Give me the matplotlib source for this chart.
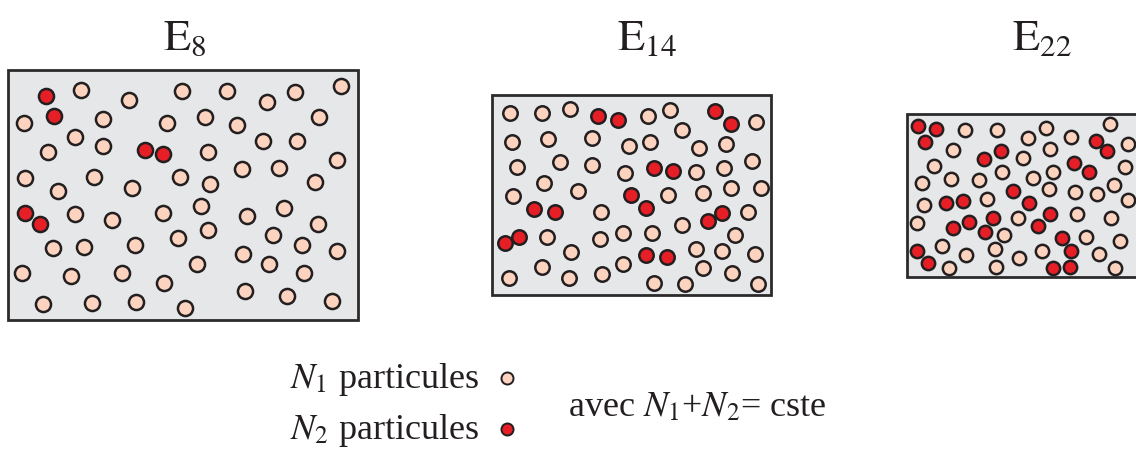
import matplotlib
matplotlib.use('Agg')
from matplotlib import pyplot as plt
from matplotlib.patches import Rectangle

plt.rcParams['mathtext.fontset'] = 'stix'

# particle centres, picture pixels (x, y from top)
box1_white = [(81, 90), (129, 100), (182, 91), (227, 91), (267, 102), (295, 92), (341, 86),
              (24, 123), (103, 119), (167, 123), (205, 117), (237, 125), (319, 117),
              (75, 137), (48, 152), (103, 146), (208, 152), (263, 141), (297, 141), (337, 160),
              (25, 178), (58, 191), (94, 177), (132, 188), (180, 177), (210, 184), (242, 169),
              (279, 168), (315, 182), (75, 214), (112, 220), (163, 213), (201, 206), (247, 216),
              (284, 208), (318, 224), (53, 248), (84, 247), (135, 245), (178, 238), (208, 230),
              (273, 235), (302, 245), (337, 251), (243, 254), (22, 273), (71, 276), (122, 273),
              (164, 283), (197, 264), (269, 264), (304, 273), (43, 304), (92, 303), (136, 302),
              (185, 308), (245, 291), (287, 296), (332, 301)]
box1_red = [(46, 96), (54, 116), (145, 150), (163, 154), (25, 213), (40, 224)]

box2_white = [(510, 113), (542, 113), (570, 109), (512, 142), (548, 139), (592, 138), (629, 146),
              (517, 167), (560, 162), (592, 165), (625, 173), (544, 183), (513, 196), (578, 191),
              (648, 116), (670, 110), (756, 122), (682, 130), (650, 142), (699, 148), (726, 144),
              (752, 161), (696, 172), (724, 168), (668, 195), (703, 193), (731, 188), (761, 188),
              (601, 212), (547, 237), (600, 239), (623, 233), (571, 252), (542, 267), (623, 264),
              (509, 278), (569, 278), (602, 274), (748, 212), (682, 225), (652, 233), (735, 235),
              (696, 249), (722, 251), (755, 254), (703, 268), (732, 273), (654, 283), (685, 284),
              (758, 284)]
box2_red = [(598, 116), (618, 120), (715, 111), (731, 124), (654, 168), (673, 171), (631, 195),
            (534, 209), (555, 212), (519, 237), (505, 243), (646, 208), (722, 213), (708, 221),
            (646, 255), (667, 257)]

box3_white = [(965, 130), (997, 130), (1046, 128), (1028, 138), (1071, 137), (1110, 124),
              (1128, 144), (953, 150), (1023, 158), (1050, 149), (934, 166), (1125, 167),
              (922, 183), (951, 179), (979, 180), (1002, 172), (1033, 178), (1053, 172),
              (1114, 185), (1049, 189), (1075, 192), (1097, 194), (1128, 200), (924, 205),
              (987, 199), (1077, 214), (1111, 218), (917, 223), (1018, 218), (1004, 235),
              (1086, 237), (1120, 241), (942, 246), (995, 249), (1042, 251), (1099, 254),
              (966, 255), (1019, 258), (949, 268), (996, 267), (1115, 268)]
box3_red = [(918, 126), (936, 129), (925, 142), (1096, 141), (1107, 151), (984, 159), (1001, 151),
            (1074, 163), (1089, 172), (1013, 191), (946, 203), (963, 201), (1029, 203),
            (1050, 214), (953, 228), (969, 222), (993, 218), (1038, 226), (985, 232), (1062, 238),
            (917, 251), (1071, 251), (928, 263), (1053, 268), (1070, 267)]

titles = [r'$\mathrm{E}_{8}$', r'$\mathrm{E}_{14}$', r'$\mathrm{E}_{22}$']

WHITE = '#fcd3bf'
RED = '#e61e25'
EDGE = '#231f20'


def main():
  fig = plt.figure(figsize=(11.36, 4.49), dpi=100)
  ax = fig.add_axes([0, 0, 1, 1])
  ax.set_xlim(0, 1136)
  ax.set_ylim(449, 0)
  ax.axis('off')

  frames = [(8, 70, 350, 250), (492, 95, 279, 200), (907, 114, 240, 163)]
  for x, y, w, h in frames:
    ax.add_patch(Rectangle((x, y), w, h, facecolor='#e6e7e8', edgecolor='#2b2b2b',
                           linewidth=2.0, zorder=1))

  groups = [(box1_white, box1_red, 118), (box2_white, box2_red, 108), (box3_white, box3_red, 92)]
  for whites, reds, s in groups:
    for pts, col in ((whites, WHITE), (reds, RED)):
      xs, ys = zip(*pts)
      ax.scatter(xs, ys, s=s, c=col, edgecolors=EDGE, linewidths=1.8, zorder=3)

  for tx, label in zip([163, 617, 1012], titles):
    ax.text(tx, 50, label, fontsize=32, ha='left', va='baseline', color='#231f20')

  font = dict(fontfamily='Liberation Serif', fontsize=26, color='#231f20',
              ha='left', va='baseline')
  ax.text(290, 388, r'$N_1$ particules', **font)
  ax.text(290, 439, r'$N_2$ particules', **font)
  ax.text(568, 416, r'avec $N_1$+$N_2$= cste', **font)
  ax.scatter([507], [378], s=75, c=WHITE, edgecolors=EDGE, linewidths=1.4, zorder=3)
  ax.scatter([507], [429], s=75, c=RED, edgecolors=EDGE, linewidths=1.4, zorder=3)

  fig.savefig('out.png', dpi=100)


if __name__ == '__main__':
  main()
